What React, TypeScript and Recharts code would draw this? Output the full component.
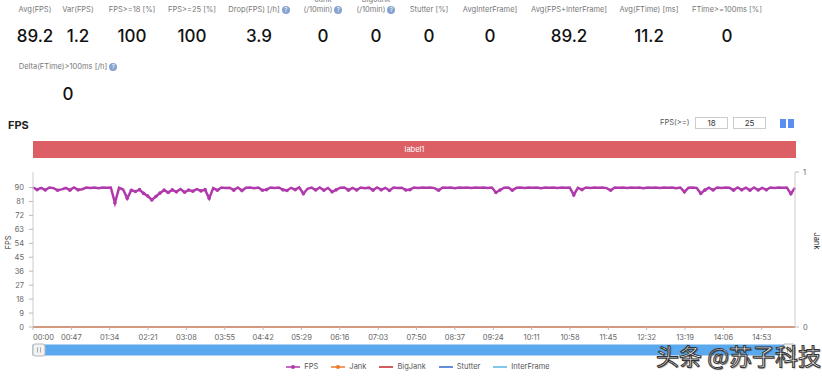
import React from 'react';
import { LineChart, Line, XAxis, YAxis, Brush } from 'recharts';

// FPS samples, one every ~5 s over the run
const FPS = [
  90, 88.6, 89.8, 88.4, 90, 89.6, 88.2, 88.8, 89.7, 88.3,
  90, 88.5, 88.9, 90, 89.7, 90, 89.6, 90, 89.8, 90,
  80, 89.8, 88.7, 83, 88.2, 87.4, 88.6, 86.2, 84.5, 82,
  84.2, 86.4, 88.3, 86.8, 88.5, 87.2, 89, 86.9, 88.4, 87.6,
  88.9, 87.8, 88.6, 83, 89.6, 88.2, 90, 89.7, 89.9, 88.3,
  90, 88, 89.8, 90, 89.6, 90, 88.2, 88.6, 90, 89.7,
  90, 88.5, 88.1, 89.8, 88.6, 90, 86, 89.2, 89.9, 88.4,
  90, 88.2, 89.7, 87.2, 88.5, 89.9, 90, 88.3, 89.8, 88.4,
  90, 89.6, 89.9, 88.3, 90, 88.5, 89.8, 88.1, 90, 89.7,
  89.9, 88.4, 88.6, 90, 89.7, 90, 89.8, 90, 89.6, 88.2,
  90, 89.8, 90, 89.6, 90, 89.9, 90, 89.7, 90, 89.8,
  90, 89.7, 90, 86.8, 88.4, 89.9, 90, 88.2, 89.8, 90,
  89.7, 90, 89.8, 90, 89.6, 90, 89.9, 90, 89.7, 90,
  89.8, 90, 85.2, 89.8, 88.6, 90, 89.7, 90, 89.8, 90,
  89.6, 88.2, 90, 89.8, 90, 89.7, 90, 89.9, 90, 89.6,
  90, 89.8, 90, 89.7, 90, 89.9, 90, 89.6, 90, 87.2,
  89.8, 90, 89.7, 86.2, 88.3, 89.9, 88.4, 90, 89.7, 90,
  89.8, 88.3, 90, 88.5, 89.9, 88.2, 90, 88.4, 89.8, 88.5,
  90, 89.7, 90, 89.8, 90, 86, 89.8,
];
const SAMPLE_SECONDS = 5.02;

// jank-type counters stay at zero for the whole run
const COUNTER_TIMES = [0, 933.7];
const JANK = [0, 0];
const BIG_JANK = [0, 0];
const STUTTER = [0, 0];
const INTER_FRAME = [0, 0];

const X_TICKS = [0, 47, 94, 141, 188, 235, 282, 329, 376, 423, 470, 517, 564, 611, 658, 705, 752, 799, 846, 893];
const FPS_TICKS = [0, 9, 18, 27, 36, 45, 54, 63, 72, 81, 90];

const STATS = [
  { label: 'Avg(FPS)', value: '89.2', cx: 35 },
  { label: 'Var(FPS)', value: '1.2', cx: 78 },
  { label: 'FPS>=18 [%]', value: '100', cx: 132 },
  { label: 'FPS>=25 [%]', value: '100', cx: 192 },
  { label: 'Drop(FPS) [/h]', value: '3.9', cx: 259, help: true },
  { label: '(/10min)', top: 'Jank', value: '0', cx: 323, help: true },
  { label: '(/10min)', top: 'BigJank', value: '0', cx: 376, help: true },
  { label: 'Stutter [%]', value: '0', cx: 429 },
  { label: 'AvgInterFrame]', value: '0', cx: 490 },
  { label: 'Avg(FPS+InterFrame]', value: '89.2', cx: 569 },
  { label: 'Avg(FTime) [ms]', value: '11.2', cx: 649 },
  { label: 'FTime>=100ms [%]', value: '0', cx: 727 },
];

const LEGEND = [
  { name: 'FPS', color: '#b03aac', dot: true },
  { name: 'Jank', color: '#f0782a', dot: true },
  { name: 'BigJank', color: '#c0282c' },
  { name: 'Stutter', color: '#2f6bcc' },
  { name: 'InterFrame', color: '#54b6e6' },
];

const rows = FPS.map((v, i) => ({ t: i * SAMPLE_SECONDS, fps: v }));
const counterRows = (vals: number[]) => vals.map((v, i) => ({ t: COUNTER_TIMES[i], v }));

const FONT = 'Inter, "Noto Sans", sans-serif';

const fmt = (s: number) =>
  `${String(Math.floor(s / 60)).padStart(2, '0')}:${String(Math.round(s) % 60).padStart(2, '0')}`;

function Help() {
  return (
    <span style={{
      display: 'inline-block', width: 8, height: 8, borderRadius: 4, background: '#86a3cf',
      color: '#fff', fontSize: 6, lineHeight: '8px', textAlign: 'center', marginLeft: 2, verticalAlign: 'middle',
    }}>?</span>
  );
}

function XTick(props: any) {
  const { x, y, payload, index } = props;
  return (
    <text x={x} y={y + 8} textAnchor={index === 0 ? 'start' : 'middle'} fontSize={7.5} fill="#666" fontFamily={FONT}>
      {fmt(payload.value)}
    </text>
  );
}

function FpsDot(props: any) {
  const { cx, cy, payload } = props;
  if (payload.fps > 88.6) return null;
  return <circle cx={cx} cy={cy} r={1.8} fill="#b03aac" />;
}

function Traveller(props: any) {
  const { x, y, width, height } = props;
  return (
    <g>
      <rect x={x} y={y - 1} width={width} height={height + 2} rx={2} fill="#f2f2f2" stroke="#b5b5b5" />
      <line x1={x + 4.5} y1={y + 2.5} x2={x + 4.5} y2={y + height - 2.5} stroke="#aaa" />
      <line x1={x + 7.5} y1={y + 2.5} x2={x + 7.5} y2={y + height - 2.5} stroke="#aaa" />
    </g>
  );
}

export default function App() {
  return (
    <div style={{ position: 'absolute', left: 0, top: 0, width: 822, height: 377, background: '#fff', overflow: 'hidden', fontFamily: FONT }}>
      {STATS.map((s) => (
        <div key={s.label + s.cx} style={{ position: 'absolute', left: s.cx - 60, width: 120, top: 0, textAlign: 'center' }}>
          <div style={{ position: 'absolute', left: 0, width: 120, top: -5, fontSize: 7.5, color: '#777', lineHeight: '10px' }}>
            {s.top || ''}
          </div>
          <div style={{ position: 'absolute', left: 0, width: 120, top: 5, fontSize: 7.5, color: '#777', lineHeight: '10px', whiteSpace: 'nowrap' }}>
            {s.label}{s.help && <Help />}
          </div>
          <div style={{ position: 'absolute', left: 0, width: 120, top: 26, fontSize: 17, fontWeight: 500, color: '#111', lineHeight: '20px' }}>
            {s.value}
          </div>
        </div>
      ))}
      <div style={{ position: 'absolute', left: 8, width: 120, top: 62, textAlign: 'center' }}>
        <div style={{ fontSize: 7.5, color: '#777', lineHeight: '10px', whiteSpace: 'nowrap' }}>
          Delta(FTime)&gt;100ms [/h]<Help />
        </div>
        <div style={{ marginTop: 12, fontSize: 17, fontWeight: 500, color: '#111', lineHeight: '20px' }}>0</div>
      </div>

      <div style={{ position: 'absolute', left: 8, top: 118, fontSize: 11, fontWeight: 700, color: '#222' }}>FPS</div>
      <div style={{ position: 'absolute', left: 660, top: 118, fontSize: 7.5, color: '#555' }}>FPS(&gt;=)</div>
      {['18', '25'].map((v, i) => (
        <div key={v} style={{
          position: 'absolute', left: 695 + i * 38, top: 117, width: 33, height: 12, border: '1px solid #ccc',
          boxSizing: 'border-box', fontSize: 8, lineHeight: '10px', textAlign: 'center', color: '#333',
        }}>{v}</div>
      ))}
      <div style={{ position: 'absolute', left: 780, top: 119, width: 6, height: 9, background: '#5a8ef0' }} />
      <div style={{ position: 'absolute', left: 788, top: 119, width: 6, height: 9, background: '#5a8ef0' }} />

      <div style={{
        position: 'absolute', left: 33, top: 141, width: 763, height: 17, background: '#dd5f66',
        color: '#fff', fontSize: 7.5, lineHeight: '17px', textAlign: 'center',
      }}>label1</div>

      <div style={{ position: 'absolute', left: 0, top: 165 }}>
        <LineChart width={822} height={212} data={rows} margin={{ top: 7, right: 0, left: 0, bottom: 24 }}>
          <XAxis
            dataKey="t"
            type="number"
            domain={[0, 'dataMax']}
            ticks={X_TICKS}
            interval={0}
            height={16}
            tickSize={3}
            tick={<XTick />}
            axisLine={{ stroke: '#ccc' }}
            tickLine={{ stroke: '#bbb' }}
          />
          <YAxis
            yAxisId="fps"
            width={33}
            domain={[0, 100]}
            ticks={FPS_TICKS}
            interval={0}
            tickSize={4}
            tickMargin={5}
            tick={{ fontSize: 7.5, fill: '#666', fontFamily: FONT }}
            axisLine={{ stroke: '#ccc' }}
            tickLine={{ stroke: '#bbb' }}
            label={{ value: 'FPS', angle: -90, position: 'insideLeft', offset: 8, style: { fontSize: 7.5, fill: '#333', fontFamily: FONT } }}
          />
          <YAxis
            yAxisId="jank"
            orientation="right"
            width={27}
            domain={[0, 1]}
            ticks={[0, 1]}
            tickSize={4}
            tickMargin={4}
            tick={{ fontSize: 7.5, fill: '#666', fontFamily: FONT }}
            axisLine={{ stroke: '#ccc' }}
            tickLine={{ stroke: '#bbb' }}
            label={{ value: 'Jank', angle: 90, position: 'insideRight', offset: 5, style: { fontSize: 7.5, fill: '#333', fontFamily: FONT } }}
          />
          <Line yAxisId="jank" data={counterRows(INTER_FRAME)} dataKey="v" stroke="#54b6e6" strokeWidth={1.5} dot={false} isAnimationActive={false} />
          <Line yAxisId="jank" data={counterRows(STUTTER)} dataKey="v" stroke="#2f6bcc" strokeWidth={1.5} dot={false} isAnimationActive={false} />
          <Line yAxisId="jank" data={counterRows(BIG_JANK)} dataKey="v" stroke="#c0282c" strokeWidth={1.5} dot={false} isAnimationActive={false} />
          <Line yAxisId="jank" data={counterRows(JANK)} dataKey="v" stroke="#f0782a" strokeWidth={1.5} dot={false} isAnimationActive={false} />
          <Line yAxisId="fps" dataKey="fps" stroke="#b03aac" strokeWidth={2.5} dot={<FpsDot />} activeDot={false} isAnimationActive={false} />
          <Brush
            dataKey="t"
            x={33}
            y={180}
            width={762}
            height={10}
            fill="#5ba8ee"
            stroke="#5ba8ee"
            travellerWidth={12}
            traveller={<Traveller />}
            tickFormatter={fmt}
          />
        </LineChart>
      </div>

      <div style={{ position: 'absolute', left: 7, width: 822, top: 362, display: 'flex', justifyContent: 'center', gap: 13, fontSize: 7.5, color: '#555' }}>
        {LEGEND.map((l) => (
          <div key={l.name} style={{ display: 'flex', alignItems: 'center', gap: 4 }}>
            <svg width={14} height={8}>
              <line x1={0} y1={4} x2={14} y2={4} stroke={l.color} strokeWidth={1.5} />
              {l.dot && <circle cx={7} cy={4} r={2} fill={l.color} />}
            </svg>
            <span>{l.name}</span>
          </div>
        ))}
      </div>

      <div style={{
        position: 'absolute', left: 656, top: 338, fontSize: 23, fontFamily: '"Noto Sans CJK SC", sans-serif',
        color: '#fff', WebkitTextStroke: '1px #333', textShadow: '1px 1px 1px rgba(0,0,0,0.5)', whiteSpace: 'nowrap',
      }}>头条 @苏子科技</div>
    </div>
  );
}
